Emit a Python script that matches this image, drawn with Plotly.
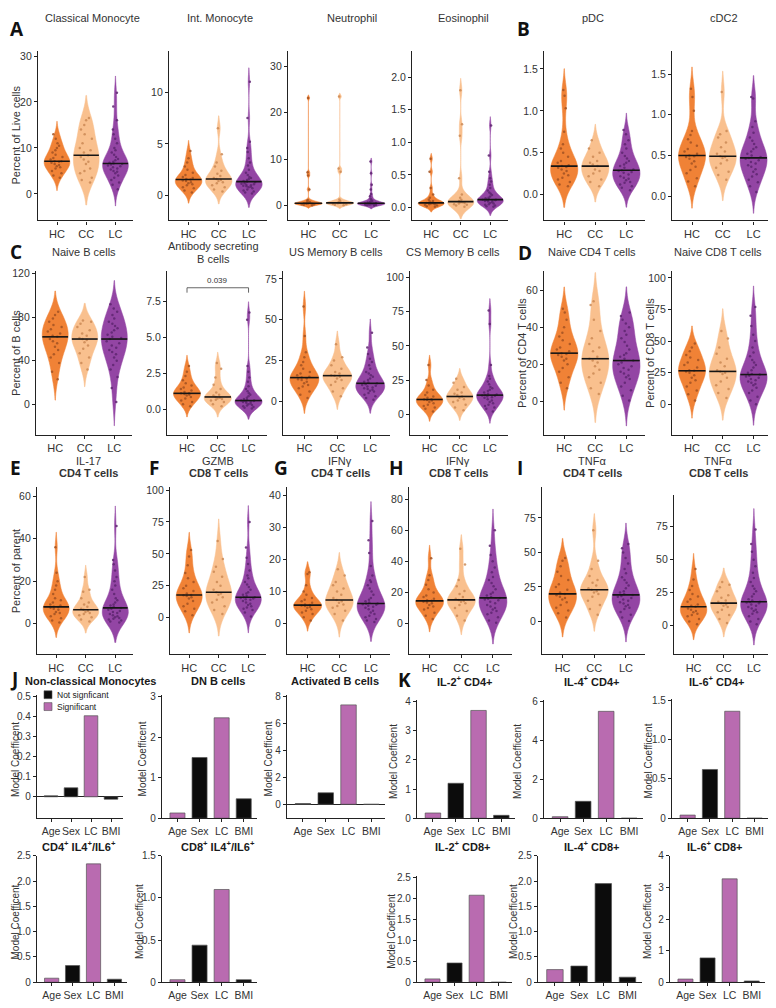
import numpy as np
import plotly.graph_objects as go

# the page body adds an 8px margin, so the figure is 768x1000 and all
# reference pixel positions below are shifted by that margin
OX, OY = 8, 8
W, H = 768, 1000
FONT = "Liberation Sans, Arial, sans-serif"
groups = ["HC", "CC", "LC"]

# ---------------- violin data (percent values) ----------------
classical_mono = {
    "HC": [3.5, 4, 4.5, 5, 5.5, 5.8, 6, 6.3, 6.5, 6.8, 7, 7.1, 7.1, 7.5, 7.8, 8, 8.5, 9, 9.5, 10, 10.5, 11, 12, 13],
    "CC": [2.5, 3, 3.5, 4.5, 5, 5.5, 6.5, 7, 7.5, 8, 8.4, 9, 9.5, 10, 11, 12, 13, 14, 15, 16, 16.5],
    "LC": [1, 2, 2.5, 3, 3.5, 4, 4.5, 4.8, 5, 5.3, 5.5, 5.8, 6, 6.2, 6.4, 6.5, 6.6, 6.8, 7, 7.3, 7.6, 8, 8.5,
           9, 9.5, 10, 11, 12, 13, 14, 16, 19, 22],
}
int_mono = {
    "HC": [0.3, 0.5, 0.7, 0.8, 1.0, 1.1, 1.2, 1.3, 1.4, 1.45, 1.55, 1.6, 1.7, 1.8, 2.0, 2.2, 2.5, 2.8, 3.2, 3.6, 4.3],
    "CC": [0.4, 0.6, 0.8, 1.0, 1.2, 1.3, 1.4, 1.5, 1.6, 1.7, 1.9, 2.1, 2.4, 2.8, 3.2, 4.0, 6.5],
    "LC": [0.2, 0.3, 0.4, 0.5, 0.6, 0.7, 0.8, 0.85, 0.9, 0.95, 1.0, 1.05, 1.1, 1.15, 1.2, 1.3, 1.35, 1.4, 1.5,
           1.6, 1.7, 1.8, 2.0, 2.2, 2.5, 2.9, 3.2, 3.6, 4.2, 4.6, 5.2, 7.5, 11.0],
}
neutrophil = {
    "HC": [0.1, 0.2, 0.3, 0.3, 0.4, 0.4, 0.45, 0.5, 0.5, 0.5, 0.6, 0.7, 0.8, 1.0, 1.2, 3.5, 6.5, 7.2, 23.2],
    "CC": [0.1, 0.2, 0.3, 0.4, 0.5, 0.55, 0.6, 0.6, 0.7, 0.8, 1.0, 1.3, 7.3, 8.0, 23.5],
    "LC": [0.05, 0.1, 0.15, 0.2, 0.25, 0.3, 0.3, 0.35, 0.35, 0.4, 0.4, 0.4, 0.45, 0.45, 0.5, 0.55, 0.6, 0.7,
           0.8, 0.9, 1.0, 1.2, 1.5, 2.0, 2.5, 3.5, 4.5, 7.0, 9.5],
}
eosinophil = {
    "HC": [0.01, 0.02, 0.03, 0.04, 0.05, 0.05, 0.06, 0.06, 0.07, 0.07, 0.08, 0.09, 0.1, 0.12, 0.15, 0.2, 0.3, 0.55, 0.75],
    "CC": [0.01, 0.03, 0.04, 0.05, 0.06, 0.07, 0.08, 0.08, 0.09, 0.1, 0.12, 0.15, 0.2, 0.45, 1.1, 1.28, 1.8],
    "LC": [0.01, 0.02, 0.03, 0.04, 0.05, 0.06, 0.07, 0.08, 0.09, 0.1, 0.1, 0.11, 0.11, 0.12, 0.12, 0.12, 0.13,
           0.14, 0.15, 0.17, 0.19, 0.21, 0.23, 0.26, 0.3, 0.35, 0.4, 0.45, 0.55, 0.8, 1.26],
}
pdc = {
    "HC": [0.1, 0.12, 0.15, 0.18, 0.2, 0.23, 0.25, 0.28, 0.3, 0.32, 0.33, 0.34, 0.35, 0.38, 0.4, 0.45, 0.5,
           0.55, 0.6, 0.75, 1.03, 1.18, 1.25],
    "CC": [0.1, 0.15, 0.18, 0.22, 0.25, 0.28, 0.3, 0.34, 0.36, 0.38, 0.4, 0.45, 0.5, 0.55, 0.65],
    "LC": [0.05, 0.08, 0.1, 0.12, 0.14, 0.15, 0.17, 0.19, 0.2, 0.22, 0.24, 0.26, 0.27, 0.28, 0.29, 0.3, 0.32,
           0.34, 0.36, 0.38, 0.4, 0.43, 0.46, 0.5, 0.55, 0.6, 0.65, 0.72, 0.77],
}
cdc2 = {
    "HC": [0.12, 0.18, 0.22, 0.28, 0.32, 0.36, 0.4, 0.43, 0.46, 0.48, 0.49, 0.5, 0.52, 0.55, 0.58, 0.62, 0.66,
           0.7, 0.75, 0.8, 1.05, 1.22, 1.32],
    "CC": [0.2, 0.26, 0.3, 0.35, 0.4, 0.44, 0.47, 0.48, 0.49, 0.52, 0.55, 0.6, 0.66, 0.72, 0.76, 0.8, 1.28],
    "LC": [0.05, 0.12, 0.17, 0.2, 0.24, 0.27, 0.3, 0.33, 0.36, 0.38, 0.4, 0.42, 0.44, 0.46, 0.47, 0.48, 0.5,
           0.52, 0.55, 0.58, 0.6, 0.64, 0.68, 0.72, 0.78, 0.85, 0.92, 1.2, 1.22],
}
naive_b = {
    "HC": [23, 30, 38, 43, 46, 50, 53, 56, 58, 60, 62, 63, 65, 67, 69, 71, 73, 76, 79, 82, 85],
    "CC": [32, 38, 43, 47, 51, 54, 57, 59, 60, 61, 63, 65, 68, 71, 74, 76, 77],
    "LC": [2, 15, 25, 32, 36, 40, 43, 46, 48, 50, 52, 54, 56, 58, 60, 61, 62, 64, 66, 68, 70, 72, 74, 76, 79,
           82, 85, 88, 92],
}
asc_b = {
    "HC": [0.2, 0.35, 0.5, 0.6, 0.75, 0.85, 0.95, 1.0, 1.05, 1.1, 1.1, 1.2, 1.3, 1.4, 1.5, 1.65, 1.8, 2.0, 2.3, 2.6, 3.0],
    "CC": [0.2, 0.35, 0.5, 0.6, 0.65, 0.7, 0.75, 0.8, 0.85, 0.95, 1.0, 1.15, 1.4, 1.7, 2.2, 2.8, 3.2],
    "LC": [0.05, 0.1, 0.15, 0.2, 0.25, 0.3, 0.35, 0.4, 0.45, 0.5, 0.52, 0.55, 0.57, 0.6, 0.6, 0.6, 0.65, 0.7,
           0.8, 0.9, 1.0, 1.1, 1.25, 1.4, 1.6, 1.9, 2.2, 2.6, 3.0, 6.2, 6.7],
}
us_mem_b = {
    "HC": [2, 4, 6, 8, 9, 10, 11, 12, 13, 13.5, 14, 14.5, 15, 16, 17, 18, 20, 22, 24, 27, 30, 40, 58],
    "CC": [3, 6, 8, 10, 12, 13, 14, 15, 15.7, 16, 17, 18, 20, 22, 25, 27, 35],
    "LC": [1, 2, 3, 4, 5, 6, 6.5, 7, 7.5, 8, 8.5, 9, 9.5, 10, 10.5, 11, 11.5, 12, 13, 14, 15, 16, 17, 18, 20,
           22, 24, 26, 29, 33, 42],
}
cs_mem_b = {
    "HC": [2, 4, 5, 6, 7, 8, 9, 10, 10.5, 10.8, 11, 12, 13, 14, 16, 18, 21, 25, 36],
    "CC": [3, 5, 7, 9, 10, 11, 12, 13, 14, 15, 16, 18, 20, 23, 26],
    "LC": [2, 4, 5, 6, 7, 8, 9, 10, 11, 12, 12.5, 13, 13.5, 13.8, 14, 14.5, 15, 16, 17, 18, 19, 20, 22, 24,
           26, 28, 36, 66, 76],
}
naive_cd4 = {
    "HC": [7, 10, 13, 16, 18, 20, 22, 23, 24, 25, 25.5, 26, 27, 28, 29, 31, 33, 35, 37, 40, 44, 48, 50],
    "CC": [4, 7, 10, 13, 15, 17, 19, 21, 22, 23, 24, 27, 29, 31, 34, 38, 44, 52, 54],
    "LC": [0.5, 3, 6, 8, 10, 12, 13, 14, 15, 16, 17, 18, 19, 20, 21, 22, 23, 24, 25, 26, 28, 30, 32, 34, 36,
           38, 40, 42, 44, 46, 48],
}
naive_cd8 = {
    "HC": [3, 8, 11, 14, 17, 19, 21, 23, 25, 26, 26.5, 27, 29, 31, 33, 35, 37, 39, 42, 45, 48],
    "CC": [5, 9, 12, 15, 18, 21, 24, 25, 26, 27, 30, 33, 36, 40, 45, 52, 58],
    "LC": [0, 3, 6, 9, 11, 13, 15, 16, 17, 18, 19, 20, 21, 22, 22.5, 23.5, 24, 25, 27, 29, 31, 33, 35, 38,
           41, 45, 50, 55, 62, 70, 77],
}
il17_cd4 = {
    "HC": [0.5, 1.5, 2.5, 3.5, 4.5, 5, 5.5, 6.5, 7, 7.5, 7.8, 7.9, 8.5, 9, 10, 11, 12, 14, 16, 18, 20, 24, 36],
    "CC": [1, 2, 3, 4, 4.5, 5, 5.5, 6, 6.5, 7, 8, 9, 10, 12, 15, 16, 22],
    "LC": [0.5, 1, 1.5, 2, 2.3, 2.6, 3, 3.5, 4, 4.5, 5, 5.5, 6, 6.5, 7, 7.4, 8, 8.5, 9, 10, 11, 12, 14, 16,
           18, 20, 22, 25, 28, 30, 46],
}
gzmb_cd8 = {
    "HC": [2, 5, 7, 9, 11, 13, 15, 16, 17, 17.5, 17.8, 19, 21, 23, 25, 28, 31, 35, 41, 48, 53],
    "CC": [3, 6, 9, 12, 14, 16, 18, 19, 20, 22, 25, 28, 32, 36, 40, 46, 60],
    "LC": [1, 4, 6, 7, 8, 9, 10, 11, 12, 13, 14, 14.5, 15, 15.5, 16, 16, 17, 18, 19, 20, 22, 24, 26, 28, 31,
           33, 37, 42, 47, 55, 75],
}
ifng_cd4 = {
    "HC": [1, 2, 3, 3.5, 4, 4.5, 5, 5.2, 5.5, 5.7, 5.8, 6, 6.5, 7, 7.5, 8, 9, 10, 12, 15.5, 16],
    "CC": [1, 3, 4, 5, 5.5, 6, 6.5, 7, 7.4, 8, 9, 10, 11, 12, 13, 15, 17],
    "LC": [0.5, 1, 1.5, 2, 2.5, 3, 3.5, 4, 4.5, 5, 5.3, 5.6, 5.9, 6.1, 6.2, 6.3, 6.6, 7, 7.5, 8, 9, 10, 11,
           12, 13, 13.5, 15, 18, 22, 26, 32],
}
ifng_cd8 = {
    "HC": [3, 5, 7, 9, 10, 11, 12, 13, 13.5, 14, 14.6, 15, 16, 17, 18, 20, 22, 25, 28, 31, 42],
    "CC": [2, 5, 8, 10, 12, 13, 14, 14.5, 15.2, 16, 17, 19, 21, 24, 28, 38, 48],
    "LC": [0.5, 2, 4, 6, 7, 8, 9, 10, 11, 12, 13, 14, 15, 15.5, 16, 16.5, 17, 18, 19, 20, 22, 24, 26, 28,
           30, 33, 36, 40, 44, 50, 60],
}
tnfa_cd4 = {
    "HC": [3, 6, 8, 10, 12, 14, 16, 17, 18, 19, 20, 21, 23, 25, 27, 30, 33, 36, 40, 44, 46],
    "CC": [5, 9, 12, 15, 18, 20, 21, 22, 23, 24, 26, 28, 30, 33, 38, 44, 66],
    "LC": [0.5, 3, 5, 7, 9, 10, 11, 12, 13, 14, 15, 16, 17, 18, 18.5, 19.3, 20, 21, 22, 24, 26, 28, 30, 32,
           35, 38, 42, 46, 50, 53, 56],
}
tnfa_cd8 = {
    "HC": [1, 3, 5, 7, 8, 9, 10, 11, 12, 13, 14.3, 15, 16, 18, 20, 22, 24, 27, 30, 35, 43],
    "CC": [2, 5, 8, 10, 12, 14, 15, 16, 17, 18, 19, 21, 23, 26, 29, 31, 33],
    "LC": [1, 3, 5, 7, 9, 10, 11, 12, 13, 14, 15, 16, 17, 17.5, 17.8, 18, 19, 20, 22, 24, 26, 28, 30, 33,
           36, 40, 45, 50, 56, 62, 73],
}
asc_pvalue = "0.039"

# ---------------- model coefficient bars ----------------
bar_cats = ["Age", "Sex", "LC", "BMI"]
nc_mono_coef = [0.005, 0.045, 0.405, -0.012]
nc_mono_sig = [0, 0, 1, 0]
dn_b_coef = [0.13, 1.5, 2.48, 0.48]
dn_b_sig = [1, 0, 1, 0]
act_b_coef = [0.05, 0.85, 7.35, 0.0]
act_b_sig = [0, 0, 1, 0]
il2_cd4_coef = [0.18, 1.2, 3.7, 0.1]
il2_cd4_sig = [1, 0, 1, 0]
il4_cd4_coef = [0.08, 0.87, 5.5, 0.0]
il4_cd4_sig = [1, 0, 1, 0]
il6_cd4_coef = [0.04, 0.62, 1.36, 0.0]
il6_cd4_sig = [1, 0, 1, 0]
cd4_il4il6_coef = [0.08, 0.33, 2.34, 0.06]
cd4_il4il6_sig = [1, 0, 1, 0]
cd8_il4il6_coef = [0.03, 0.44, 1.1, 0.03]
cd8_il4il6_sig = [1, 0, 1, 0]
il2_cd8_coef = [0.08, 0.46, 2.08, 0.0]
il2_cd8_sig = [1, 0, 1, 0]
il4_cd8_coef = [0.25, 0.32, 1.95, 0.1]
il4_cd8_sig = [1, 0, 0, 0]
il6_cd8_coef = [0.1, 0.77, 3.27, 0.04]
il6_cd8_sig = [1, 0, 1, 0]

FILL = {"HC": "#F07C2C", "CC": "#F9BD88", "LC": "#8E3CA0"}
DOTS = {"HC": "#9E4A18", "CC": "#C9844C", "LC": "#561A68"}
SIG_COL = "#B96BB0"
NONSIG_COL = "#0c0c0c"
AXIS_COL = "#222222"
TICK_COL = "#333333"
VWIDTH = 0.88

fig = go.Figure()
axes = {}
annotations = []
shapes = []


def px_x(x):
    return (x - OX) / W


def px_y(y):
    return 1 - (y - OY) / H


def names(k):
    s = "" if k == 1 else str(k)
    return "x" + s, "y" + s, "xaxis" + s, "yaxis" + s


def note(text, x, y, size=11, color=TICK_COL, xanchor="center", yanchor="middle", angle=0, family=FONT):
    annotations.append(dict(text=text, x=px_x(x), y=px_y(y), xref="paper", yref="paper", showarrow=False,
                            xanchor=xanchor, yanchor=yanchor, textangle=angle,
                            font=dict(size=size, color=color, family=family)))


def title_lines(lines, x, y, size=11, gap=13):
    # multi-line panel titles: one annotation per line keeps the line spacing tight
    for j, txt in enumerate(lines):
        note(txt, x, y + j * gap, size=size)


def fmt_ticks(vals, fmt, plain_zero=False):
    out = []
    for v in vals:
        if plain_zero and v == 0:
            out.append("0")
        else:
            out.append(format(v, fmt))
    return out


def set_axes(k, box, xr, yr, xtv, xtt, ytv, ytt, zeroline=False, xfont=11, yfont=10.5):
    xa, ya, xkey, ykey = names(k)
    l, r, t, b = box
    common = dict(showline=True, linecolor=AXIS_COL, linewidth=1.3, ticks="outside", ticklen=3,
                  tickcolor=AXIS_COL, showgrid=False, fixedrange=True, tickangle=0)
    axes[xkey] = dict(domain=[px_x(l), px_x(r)], range=xr, anchor=ya, tickvals=xtv, ticktext=xtt,
                      zeroline=False, tickfont=dict(size=xfont, color=TICK_COL, family=FONT), **common)
    axes[ykey] = dict(domain=[px_y(b), px_y(t)], range=yr, anchor=xa, tickvals=ytv, ticktext=ytt,
                      zeroline=zeroline, zerolinecolor=AXIS_COL, zerolinewidth=1,
                      tickfont=dict(size=yfont, color=TICK_COL, family=FONT), **common)


def violin_halfwidth(vals, y):
    # same kernel density rule plotly uses, to end the median line at the violin edge
    v = np.asarray(vals, float)
    n = len(v)
    q1, q3 = np.percentile(v, [25, 75])
    bw = 1.059 * min(v.std(ddof=1), (q3 - q1) / 1.349) * n ** -0.2
    grid = np.linspace(v.min() - 2 * bw, v.max() + 2 * bw, 400)
    dens = np.exp(-0.5 * ((grid[None, :] - v[:, None]) / bw) ** 2).sum(0)
    d_y = np.exp(-0.5 * ((y - v) / bw) ** 2).sum()
    return VWIDTH / 2 * d_y / dens.max()


# (data, box l r t b, y range, tick values, tick format, title lines, title x, title y)
violin_panels = [
    (classical_mono, (38, 133, 45, 217), (-5.8, 31.2), [0, 10, 20, 30], "d", ["Classical Monocyte"], 92, 12),
    (int_mono, (169, 267, 45, 217), (-2.4, 14.0), [0, 5, 10], "d", ["Int. Monocyte"], 220, 12),
    (neutrophil, (288, 390, 45, 217), (-3.2, 33.4), [0, 10, 20, 30], "d", ["Neutrophil"], 352, 12),
    (eosinophil, (412, 508, 45, 217), (-0.2, 2.41), [0, 0.5, 1, 1.5, 2], ".1f", ["Eosinophil"], 463, 12),
    (pdc, (544, 645, 45, 217), (-0.31, 1.72), [0, 0.5, 1, 1.5], ".1f", ["pDC"], 593, 12),
    (cdc2, (672, 772, 45, 217), (-0.3, 1.79), [0, 0.5, 1, 1.5], ".1f", ["cDC2"], 724, 12),
    (naive_b, (36, 132, 268, 434), (-28.2, 122.7), [0, 40, 80, 120], "d", ["Naive B cells"], 84, 249),
    (asc_b, (167, 267, 268, 434), (-1.78, 9.59), [0, 2.5, 5, 7.5], ".1f",
     ["Antibody secreting", "B cells"], 213, 243),
    (us_mem_b, (283, 390, 268, 434), (-20.6, 79.9), [0, 25, 50, 75], "d", ["US Memory B cells"], 336, 249),
    (cs_mem_b, (410, 508, 268, 434), (-15.1, 104.9), [0, 25, 50, 75, 100], "d", ["CS Memory B cells"], 453, 249),
    (naive_cd4, (544, 645, 268, 434), (-18.1, 70.4), [0, 20, 40, 60], "d", ["Naive CD4 T cells"], 592, 249),
    (naive_cd8, (672, 772, 268, 434), (-24.2, 105.5), [0, 25, 50, 75, 100], "d", ["Naive CD8 T cells"], 718, 249),
    (il17_cd4, (37, 133, 487, 656), (-14.4, 64.2), [0, 20, 40, 60], "d",
     ["IL-17", "<b>CD4 T cells</b>"], 88, 460),
    (gzmb_cd8, (170, 266, 487, 656), (-28.6, 102.2), [0, 25, 50, 75, 100], "d",
     ["GZMB", "<b>CD8 T cells</b>"], 218, 460),
    (ifng_cd4, (287, 390, 487, 656), (-9.5, 42.5), [0, 10, 20, 30, 40], "d",
     ["IFNγ", "<b>CD4 T cells</b>"], 340, 460),
    (ifng_cd8, (409, 512, 487, 656), (-19.7, 87.6), [0, 20, 40, 60, 80], "d",
     ["IFNγ", "<b>CD8 T cells</b>"], 458, 460),
    (tnfa_cd4, (542, 645, 487, 656), (-23.6, 97.1), [0, 25, 50, 75], "d",
     ["TNFα", "<b>CD4 T cells</b>"], 592, 460),
    (tnfa_cd8, (674, 772, 495, 656), (-21.8, 99.0), [0, 25, 50, 75], "d",
     ["TNFα", "<b>CD8 T cells</b>"], 718, 460),
]

for k, (data, box, yr, ytv, yfmt, title, tx, ty) in enumerate(violin_panels, start=1):
    xa, ya, _, _ = names(k)
    for i, g in enumerate(groups):
        vals = data[g]
        fig.add_trace(go.Violin(
            x0=i, y=vals, xaxis=xa, yaxis=ya, width=VWIDTH, scalemode="width", spanmode="soft",
            fillcolor=FILL[g], line=dict(color=FILL[g], width=0.5), opacity=0.95,
            points="all", pointpos=0, jitter=0.6,
            marker=dict(size=2.5, color=DOTS[g], opacity=0.85),
            hoverinfo="skip", showlegend=False,
        ))
        med = float(np.median(vals))
        hw = violin_halfwidth(vals, med)
        fig.add_trace(go.Scatter(
            x=[i - hw, i + hw], y=[med, med], mode="lines", xaxis=xa, yaxis=ya,
            line=dict(color="#151515", width=1.6), hoverinfo="skip", showlegend=False,
        ))
    set_axes(k, box, (-0.65, 2.6), yr, [0, 1, 2], groups, ytv, fmt_ticks(ytv, yfmt))
    title_lines(title, tx, ty)

# significance bracket on the antibody secreting B cell panel (panel 8)
xa8, ya8, _, _ = names(8)
for x0, y0, x1, y1 in [(0, 8.42, 2, 8.42), (0, 8.42, 0, 8.08), (2, 8.42, 2, 8.08)]:
    shapes.append(dict(type="line", xref=xa8, yref=ya8, x0=x0, y0=y0, x1=x1, y1=y1,
                       line=dict(color="#555555", width=0.9)))
annotations.append(dict(text=asc_pvalue, x=1, y=8.5, xref=xa8, yref=ya8, showarrow=False,
                        yanchor="bottom", font=dict(size=8, color="#333333", family=FONT)))

# y-axis titles for violin rows
note("Percent of Live cells", 8, 131, size=11, angle=-90, xanchor="left")
note("Percent of B cells", 8, 351, size=11, angle=-90, xanchor="left")
note("Percent of CD4 T cells", 522, 351, size=11, angle=-90)
note("Percent of CD8 T cells", 650, 351, size=11, angle=-90)
note("Percent of parent", 8, 572, size=11, angle=-90, xanchor="left")

# (coefs, sig flags, box, y range, tick values, fmt, title, title x, title y, ylabel x, zeroline)
bar_panels = [
    (nc_mono_coef, nc_mono_sig, (37, 123, 697, 822), (-0.107, 0.51), [0, 0.1, 0.2, 0.3, 0.4, 0.5], ".1f",
     "Non-classical Monocytes", 90, 683, 8, True),
    (dn_b_coef, dn_b_sig, (162, 257, 697, 822), (0, 3.05), [0, 1, 2, 3], "d", "DN B cells", 218, 683, 142, False),
    (act_b_coef, act_b_sig, (287, 385, 697, 822), (-1.03, 8.1), [0, 2, 4, 6, 8], "d",
     "Activated B cells", 335, 683, 268, True),
    (il2_cd4_coef, il2_cd4_sig, (417, 515, 702, 822), (0, 4.07), [0, 1, 2, 3, 4], "d",
     "IL-2<sup>+</sup> CD4+", 465, 683, 394, False),
    (il4_cd4_coef, il4_cd4_sig, (544, 643, 702, 822), (0, 6.1), [0, 2, 4, 6], "d",
     "IL-4<sup>+</sup> CD4+", 592, 683, 518, False),
    (il6_cd4_coef, il6_cd4_sig, (672, 768, 701, 822), (0, 1.52), [0, 0.5, 1, 1.5], ".1f",
     "IL-6<sup>+</sup> CD4+", 717, 683, 648, False),
    (cd4_il4il6_coef, cd4_il4il6_sig, (37, 127, 860, 988), (0, 2.5), [0, 0.5, 1, 1.5, 2, 2.5], ".1f",
     "CD4<sup>+</sup> IL4<sup>+</sup>/IL6<sup>+</sup>", 79, 850, 8, False),
    (cd8_il4il6_coef, cd8_il4il6_sig, (162, 257, 860, 988), (0, 1.5), [0, 0.5, 1, 1.5], ".1f",
     "CD8<sup>+</sup> IL4<sup>+</sup>/IL6<sup>+</sup>", 218, 850, 140, False),
    (il2_cd8_coef, il2_cd8_sig, (417, 512, 880, 988), (0, 2.55), [0, 0.5, 1, 1.5, 2, 2.5], ".1f",
     "IL-2<sup>+</sup> CD8+", 463, 850, 392, False),
    (il4_cd8_coef, il4_cd8_sig, (538, 642, 860, 988), (0, 2.5), [0, 0.5, 1, 1.5, 2, 2.5], ".1f",
     "IL-4<sup>+</sup> CD8+", 592, 850, 514, False),
    (il6_cd8_coef, il6_cd8_sig, (670, 765, 860, 988), (0, 4.0), [0, 1, 2, 3, 4], "d",
     "IL-6<sup>+</sup> CD8+", 715, 850, 648, False),
]

start = len(violin_panels) + 1
for k, (coef, sig, box, yr, ytv, yfmt, title, tx, ty, lx, zl) in enumerate(bar_panels, start=start):
    xa, ya, _, _ = names(k)
    pos = list(range(len(bar_cats)))
    colors = [SIG_COL if s else NONSIG_COL for s in sig]
    fig.add_trace(go.Bar(
        x=pos, y=coef, xaxis=xa, yaxis=ya, width=0.68,
        marker=dict(color=colors, line=dict(color="#555555", width=0.7)),
        hoverinfo="skip", showlegend=False,
    ))
    set_axes(k, box, (-0.7, 3.6), yr, pos, bar_cats, ytv, fmt_ticks(ytv, yfmt, plain_zero=True),
             zeroline=zl, xfont=10.5, yfont=10)
    note("<b>" + title + "</b>", tx, ty, size=11, color="#1a1a1a")
    l, r, t, b = box
    if lx <= 8:
        note("Model Coefficent", lx, (t + b) / 2 + 3, size=10, angle=-90, xanchor="left")
    else:
        note("Model Coefficent", lx, (t + b) / 2 + 3, size=10, angle=-90)

# legend drawn by hand in the first coefficient panel
for (y0, col, label) in [(693, NONSIG_COL, "Not signficant"), (705, SIG_COL, "Significant")]:
    shapes.append(dict(type="rect", xref="paper", yref="paper", x0=px_x(44), x1=px_x(52),
                       y0=px_y(y0 + 8), y1=px_y(y0), fillcolor=col,
                       line=dict(color="#555555", width=0.6)))
    note(label, 55, y0 + 4, size=8.5, color="#222222", xanchor="left")

# panel letters (top row anchored to the top edge so nothing is clipped)
for letter, x, y, ya_ in [("A", 8, 8, "top"), ("B", 515, 8, "top"), ("C", 8, 249, "middle"),
                          ("D", 516, 250, "middle"), ("E", 8, 468, "middle"), ("F", 147, 468, "middle"),
                          ("G", 272, 468, "middle"), ("H", 387, 468, "middle"), ("I", 515, 468, "middle"),
                          ("J", 8, 681, "middle"), ("K", 396, 682, "middle")]:
    note("<b>" + letter + "</b>", x, y, size=19, color="#111111", xanchor="left", yanchor=ya_,
         family="Open Sans, Liberation Sans, sans-serif")

fig.update_layout(
    width=W, height=H, margin=dict(l=0, r=0, t=0, b=0),
    paper_bgcolor="white", plot_bgcolor="white",
    font=dict(family=FONT, size=11, color=TICK_COL),
    violinmode="overlay", showlegend=False,
    annotations=annotations, shapes=shapes,
    **axes,
)

fig.write_html("out.html")
